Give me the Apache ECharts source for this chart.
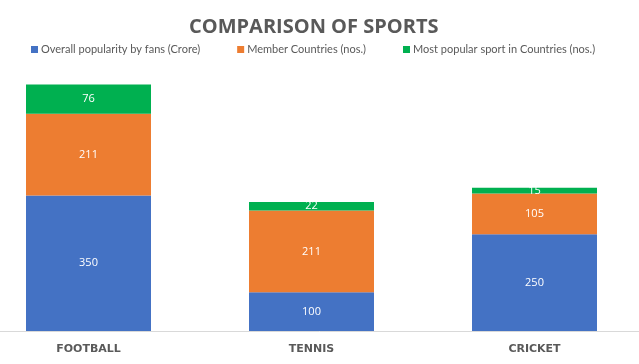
<!DOCTYPE html>
<html><head><meta charset="utf-8">
<script src="https://cdn.jsdelivr.net/npm/echarts@6/dist/echarts.min.js"></script>
<style>html,body{margin:0;padding:0;background:#fff}#c{width:639px;height:364px}</style>
</head><body><div id="c"></div>
<script>
const categories = ['FOOTBALL', 'TENNIS', 'CRICKET'];
const seriesNames = ['Overall popularity by fans (Crore)', 'Member Countries (nos.)', 'Most popular sport in Countries (nos.)'];
const popularity = [350, 100, 250];
const members = [211, 211, 105];
const mostPopular = [76, 22, 15];
const colors = ['#4472C4', '#ED7D31', '#00B050'];

const chart = echarts.init(document.getElementById('c'), null, {renderer: 'canvas'});
const values = [popularity, members, mostPopular];
chart.setOption({
  animation: false,
  title: {
    text: 'COMPARISON OF SPORTS', left: 184, top: 12,
    textStyle: {fontFamily: 'Open Sans', fontWeight: 'bold', fontSize: 20, color: '#595959'}
  },
  legend: {
    top: 39, left: 26, itemWidth: 7, itemHeight: 7, itemGap: 37,
    icon: 'rect',
    textStyle: {fontFamily: 'Lato', fontSize: 11, color: '#595959', padding: [0, 0, 0, -2]},
    data: seriesNames
  },
  grid: {left: -23, right: -7, top: 60, bottom: 33, containLabel: false, outerBoundsMode: 'none'},
  xAxis: {
    type: 'category', data: categories,
    axisLine: {show: true, lineStyle: {color: '#D9D9D9', width: 1}},
    axisTick: {show: false},
    axisLabel: {fontFamily: 'DejaVu Sans', fontWeight: 'bold', fontSize: 11, color: '#595959', margin: 13}
  },
  yAxis: {type: 'value', min: 0, max: 700, show: false, splitLine: {show: false}},
  series: seriesNames.map((n, i) => ({
    name: n, type: 'bar', stack: 'total', data: values[i],
    barWidth: 125,
    itemStyle: {color: colors[i]},
    label: {show: true, position: 'inside', color: '#fff', fontFamily: 'Open Sans', fontSize: 11}
  }))
});
</script></body></html>
